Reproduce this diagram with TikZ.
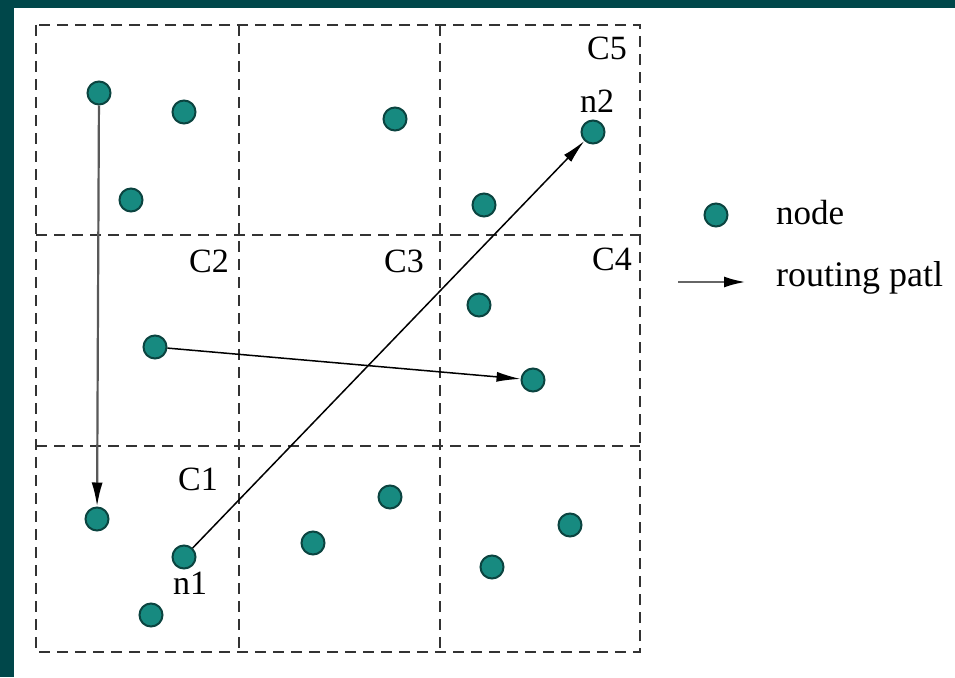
\documentclass[tikz,border=0pt]{standalone}
\usepackage{fontspec}
\setmainfont{Liberation Serif}
\usetikzlibrary{arrows.meta}
\definecolor{framecol}{HTML}{00474A}
\definecolor{nodefill}{HTML}{178A80}
\definecolor{nodeline}{HTML}{0B4440}
\begin{document}
\begin{tikzpicture}[x=1pt,y=-1pt,
  sensor/.style={circle,fill=nodefill,draw=nodeline,line width=2pt,minimum size=23pt,inner sep=0pt},
  cellgrid/.style={dash pattern=on 11pt off 7pt,line width=2.8pt,black!80},
  route/.style={-{Latex[length=24pt,width=10pt]},line width=1.5pt},
  lbl/.style={font=\fontsize{34}{40}\selectfont,inner sep=0pt}]
\useasboundingbox (0,0) rectangle (955,677);
\fill[framecol] (0,0) rectangle (955,677);
\fill[white] (14,8) rectangle (955,677);
% grid
\draw[cellgrid] (36,25) rectangle (640,652);
\draw[cellgrid] (239,25) -- (239,652);
\draw[cellgrid] (440,25) -- (440,652);
\draw[cellgrid] (36,235) -- (640,235);
\draw[cellgrid] (36,446) -- (640,446);
% sensor nodes
\node[sensor] (s1) at (99,93) {};
\node[sensor] (s2) at (184,112) {};
\node[sensor] (s3) at (131,200) {};
\node[sensor] (s4) at (395,119) {};
\node[sensor] (s5) at (484,205) {};
\node[sensor] (n2) at (593,132) {};
\node[sensor] (s7) at (479,305) {};
\node[sensor] (s8) at (155,347) {};
\node[sensor] (s9) at (533,380) {};
\node[sensor] (s10) at (97,519) {};
\node[sensor] (n1) at (184,557) {};
\node[sensor] (s12) at (151,615) {};
\node[sensor] (s13) at (390,497) {};
\node[sensor] (s14) at (313,543) {};
\node[sensor] (s15) at (570,525) {};
\node[sensor] (s16) at (492,567) {};
% labels
\node[lbl] (c5) at (607,48) {C5};
\node[lbl] (ln2) at (597,101) {n2};
\node[lbl] (c2) at (209,261) {C2};
\node[lbl] (c3) at (404,261) {C3};
\node[lbl] (c4) at (612,259) {C4};
\node[lbl] (c1) at (198,479) {C1};
\node[lbl] (ln1) at (190,583) {n1};
% routing paths
\draw[route,line width=2.2pt,black!65,-{Latex[length=24pt,width=11pt,color=black]}] (s1) -- (s10);
\draw[route] (s8) -- (s9);
\draw[route] (n1) -- (n2);
% legend
\node[sensor] (legnode) at (716,215) {};
\node[lbl,anchor=west,font=\fontsize{35}{40}\selectfont] (legnodetxt) at (776,213) {node};
\coordinate (legA) at (678,282);
\coordinate (legB) at (746,282);
\draw[route,line width=2.8pt,black!60,-{Latex[length=22pt,width=11pt,color=black]}] (legA) -- (legB);
\node[lbl,anchor=west,font=\fontsize{36}{40}\selectfont] (legroutetxt) at (776,278) {routing patl};
\end{tikzpicture}
\end{document}
